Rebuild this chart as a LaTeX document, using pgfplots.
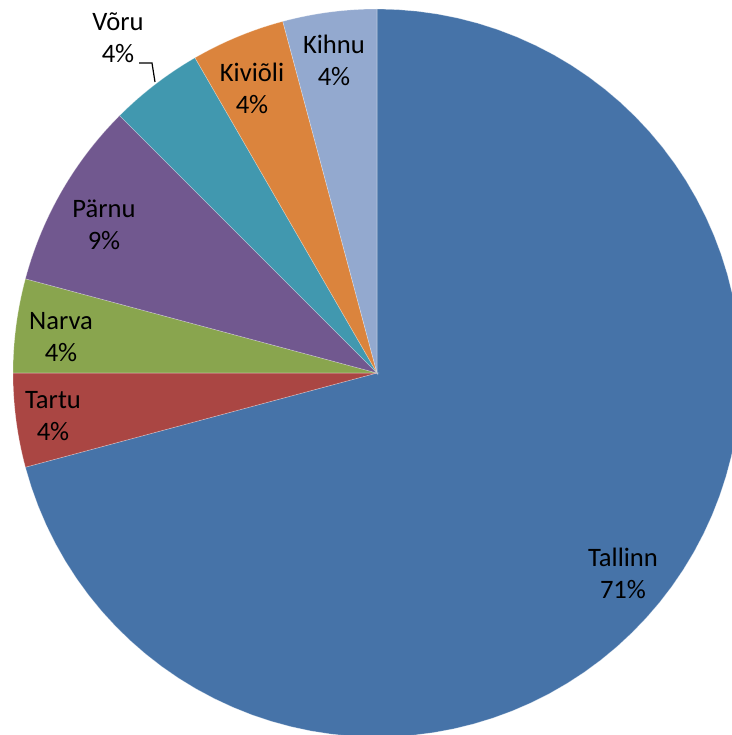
\documentclass[border=0pt]{standalone}
\usepackage{fontspec}
\setmainfont{Carlito}
\usepackage{pgfplots}
\usepackage{pgfplotstable}
\pgfplotsset{compat=1.18}
\definecolor{slice0}{HTML}{4673A8}
\definecolor{slice1}{HTML}{AA4643}
\definecolor{slice2}{HTML}{89A54E}
\definecolor{slice3}{HTML}{71588F}
\definecolor{slice4}{HTML}{4198AF}
\definecolor{slice5}{HTML}{DB843D}
\definecolor{slice6}{HTML}{93A9CF}
\pgfplotstableread{
name value
Tallinn 17
Tartu 1
Narva 1
Parnu 2
Voru 1
Kivioli 1
Kihnu 1
}\piedata
\begin{document}
\begin{tikzpicture}
\begin{axis}[scale only axis, width=366pt, height=367.5pt,
  xmin=-377, xmax=355, ymin=-362, ymax=373,
  axis lines=none, clip=true]
\pgfplotstablegetrowsof{\piedata}
\pgfmathtruncatemacro{\nlast}{\pgfplotsretval-1}
\def\total{0}
\pgfplotsforeachungrouped \i in {0,...,\nlast} {
  \pgfplotstablegetelem{\i}{value}\of\piedata
  \pgfmathsetmacro{\total}{\total+\pgfplotsretval}
}
\def\angstart{90}
\pgfplotsforeachungrouped \i in {0,...,\nlast} {
  \pgfplotstablegetelem{\i}{value}\of\piedata
  \pgfmathsetmacro{\angend}{\angstart-360*\pgfplotsretval/\total}
  \edef\cmd{\noexpand\addplot[fill=slice\i, draw=white, draw opacity=0.35, line width=0.3pt, domain=\angend:\angstart, samples=80, variable=\noexpand\t] ({364*cos(\noexpand\t)},{364*sin(\noexpand\t)}) -- (axis cs:0,0) -- cycle;}
  \cmd
  \let\angstart\angend
}
\draw[black, line width=0.6pt] (axis cs:-238,310) -- (axis cs:-225,310) -- (axis cs:-222,291);
\begin{scope}[every node/.style={align=center, font=\fontsize{13.3}{16}\selectfont, text=black}]
\node at (axis cs:246,-200) {Tallinn\\71\%};
\node at (axis cs:-324,-43) {Tartu\\4\%};
\node at (axis cs:-316,36) {Narva\\4\%};
\node at (axis cs:-273,148) {Pärnu\\9\%};
\node at (axis cs:-259,335) {Võru\\4\%};
\node at (axis cs:-125,285) {Kiviõli\\4\%};
\node at (axis cs:-43,313) {Kihnu\\4\%};
\end{scope}
\end{axis}
\pgfresetboundingbox
\path (current axis.south west) (current axis.north east);
\end{tikzpicture}
\end{document}
